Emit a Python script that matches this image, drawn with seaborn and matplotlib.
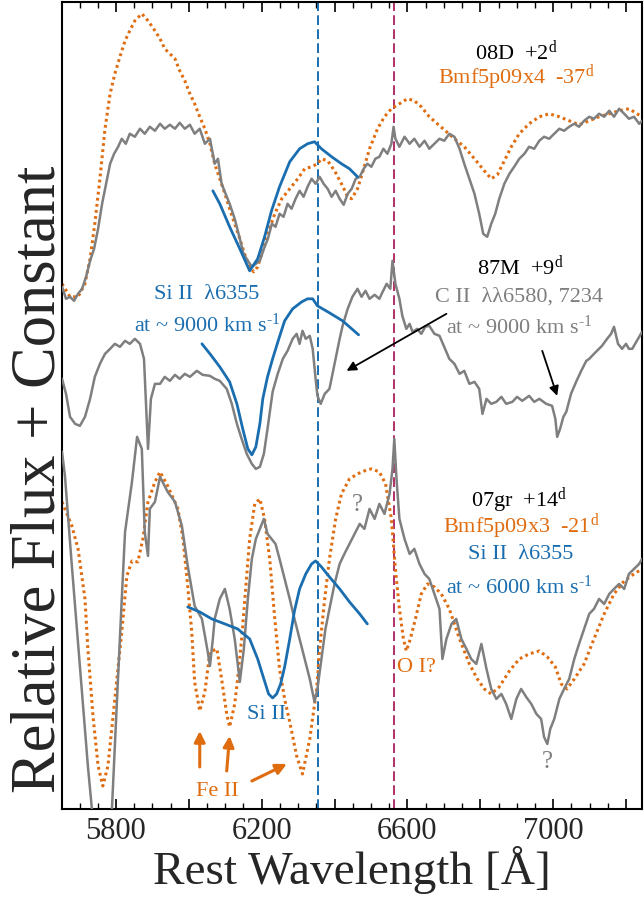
import numpy as np
import pandas as pd
import matplotlib
matplotlib.use("Agg")
import matplotlib.pyplot as plt
from matplotlib.ticker import MultipleLocator, FuncFormatter
import seaborn as sns

# ---- data (wavelength in A, flux + constant) ----
wl_08d = [5652, 5663, 5674, 5685, 5696, 5707, 5718, 5729, 5740, 5751, 5762, 5773, 5784, 5795, 5806, 5816,
          5827, 5838, 5852, 5866, 5879, 5893, 5907, 5921, 5934, 5948, 5962, 5975, 5989, 6003, 6016, 6030,
          6044, 6058, 6071, 6080, 6090, 6101, 6112, 6126, 6140, 6150, 6162, 6173, 6184, 6195, 6206, 6217,
          6228, 6238, 6249, 6260, 6271, 6282, 6293, 6304, 6315, 6326, 6337, 6348, 6359, 6370, 6381, 6392,
          6403, 6414, 6425, 6436, 6447, 6458, 6469, 6480, 6490, 6501, 6512, 6523, 6534, 6545, 6556, 6562,
          6567, 6578, 6592, 6606, 6619, 6633, 6647, 6660, 6674, 6688, 6701, 6715, 6729, 6743, 6756, 6770,
          6784, 6797, 6808, 6819, 6830, 6841, 6852, 6866, 6880, 6893, 6907, 6921, 6934, 6948, 6962, 6975,
          6989, 7003, 7017, 7030, 7044, 7058, 7071, 7085, 7099, 7112, 7126, 7140, 7154, 7167, 7181, 7195,
          7208, 7222, 7236, 7244]
fl_08d = [5.50, 5.38, 5.40, 5.36, 5.43, 5.48, 5.60, 5.76, 5.88, 6.08, 6.33, 6.53, 6.73, 6.83, 6.90, 6.98,
          6.93, 7.03, 7.00, 7.08, 7.03, 7.10, 7.06, 7.13, 7.08, 7.12, 7.08, 7.14, 7.08, 7.12, 7.03, 7.08,
          6.93, 6.98, 6.73, 6.78, 6.53, 6.43, 6.33, 6.18, 5.98, 5.83, 5.76, 5.70, 5.73, 5.76, 5.88, 5.98,
          6.13, 6.10, 6.23, 6.20, 6.33, 6.28, 6.38, 6.46, 6.40, 6.50, 6.58, 6.53, 6.60, 6.53, 6.48, 6.40,
          6.46, 6.38, 6.32, 6.43, 6.48, 6.58, 6.60, 6.68, 6.73, 6.70, 6.78, 6.80, 6.88, 6.83, 6.93, 7.10,
          6.98, 6.90, 7.00, 6.93, 6.98, 6.90, 6.96, 6.88, 6.93, 6.98, 6.96, 7.03, 7.00, 6.88, 6.73, 6.58,
          6.43, 6.23, 6.03, 6.00, 6.13, 6.23, 6.38, 6.53, 6.63, 6.70, 6.78, 6.83, 6.90, 6.88, 6.96, 7.00,
          6.98, 7.03, 7.08, 7.06, 7.10, 7.13, 7.10, 7.16, 7.20, 7.18, 7.23, 7.20, 7.26, 7.20, 7.28, 7.23,
          7.18, 7.20, 7.13, 7.16]

wl_x4 = [5652, 5674, 5696, 5715, 5729, 5742, 5756, 5770, 5784, 5797, 5811, 5825, 5838, 5852, 5871, 5888,
         5907, 5921, 5934, 5948, 5962, 5975, 5989, 6003, 6016, 6030, 6044, 6058, 6071, 6085, 6099, 6112,
         6126, 6140, 6153, 6167, 6178, 6189, 6200, 6216, 6236, 6255, 6277, 6299, 6318, 6337, 6353, 6364,
         6381, 6400, 6419, 6436, 6447, 6463, 6480, 6496, 6518, 6537, 6556, 6578, 6600, 6619, 6638, 6660,
         6682, 6704, 6729, 6756, 6784, 6811, 6830, 6847, 6866, 6885, 6907, 6934, 6962, 6989, 7017, 7044,
         7071, 7099, 7126, 7154, 7181, 7208, 7230, 7244]
fl_x4 = [5.53, 5.40, 5.40, 5.53, 5.78, 6.13, 6.58, 7.08, 7.43, 7.63, 7.80, 7.96, 8.06, 8.16, 8.23, 8.16,
         8.06, 7.98, 7.88, 7.83, 7.78, 7.66, 7.56, 7.43, 7.33, 7.20, 7.08, 6.93, 6.73, 6.58, 6.43, 6.28,
         6.13, 5.98, 5.83, 5.70, 5.65, 5.70, 5.83, 6.03, 6.23, 6.38, 6.48, 6.58, 6.68, 6.70, 6.73, 6.78,
         6.76, 6.66, 6.53, 6.40, 6.38, 6.48, 6.68, 6.88, 7.08, 7.20, 7.28, 7.33, 7.38, 7.36, 7.30, 7.20,
         7.13, 7.06, 6.98, 6.90, 6.78, 6.66, 6.58, 6.62, 6.76, 6.90, 7.03, 7.13, 7.20, 7.23, 7.20, 7.16,
         7.12, 7.16, 7.20, 7.23, 7.26, 7.28, 7.23, 7.20]

wl_si_top = [6066, 6085, 6112, 6140, 6167, 6189, 6208, 6227, 6249, 6277, 6304, 6326, 6345, 6364, 6392,
             6419, 6441, 6463]
fl_si_top = [6.46, 6.33, 6.10, 5.88, 5.66, 5.78, 6.00, 6.26, 6.50, 6.75, 6.88, 6.93, 6.95, 6.88, 6.80,
             6.73, 6.68, 6.60]

wl_87m = [5652, 5663, 5674, 5688, 5701, 5715, 5729, 5742, 5756, 5770, 5784, 5797, 5811, 5825, 5838, 5852,
          5866, 5877, 5888, 5896, 5907, 5921, 5934, 5948, 5962, 5975, 5989, 6003, 6022, 6038, 6058, 6071,
          6085, 6104, 6118, 6132, 6145, 6159, 6173, 6184, 6195, 6206, 6216, 6230, 6244, 6258, 6271, 6285,
          6296, 6304, 6312, 6321, 6332, 6340, 6348, 6353, 6362, 6373, 6386, 6400, 6414, 6422, 6436, 6449,
          6463, 6474, 6485, 6496, 6510, 6523, 6532, 6543, 6553, 6559, 6567, 6578, 6586, 6597, 6606, 6614,
          6627, 6638, 6649, 6660, 6674, 6688, 6701, 6715, 6729, 6743, 6756, 6770, 6784, 6797, 6806, 6817,
          6830, 6844, 6858, 6871, 6888, 6901, 6915, 6934, 6948, 6962, 6981, 6997, 7006, 7011, 7019, 7028,
          7036, 7049, 7063, 7077, 7091, 7099, 7112, 7126, 7134, 7148, 7159, 7167, 7178, 7189, 7200, 7208,
          7217, 7228, 7236, 7244]
fl_87m = [4.58, 4.43, 4.20, 4.13, 4.11, 4.20, 4.38, 4.60, 4.73, 4.83, 4.88, 4.93, 4.90, 4.96, 4.93, 4.98,
          4.93, 4.78, 3.88, 4.38, 4.53, 4.53, 4.60, 4.56, 4.62, 4.58, 4.63, 4.60, 4.66, 4.62, 4.61, 4.58,
          4.56, 4.48, 4.33, 4.13, 3.98, 3.83, 3.73, 3.68, 3.70, 3.83, 4.08, 4.45, 4.63, 4.78, 4.86, 4.98,
          5.03, 4.93, 5.06, 4.98, 5.01, 4.88, 4.58, 4.41, 4.33, 4.43, 4.48, 4.73, 4.98, 5.11, 5.28, 5.40,
          5.48, 5.40, 5.46, 5.38, 5.42, 5.38, 5.45, 5.53, 5.48, 5.76, 5.53, 5.38, 5.21, 5.08, 5.13, 5.05,
          5.08, 5.03, 5.10, 5.11, 5.03, 5.01, 4.90, 4.78, 4.73, 4.63, 4.66, 4.53, 4.55, 4.48, 4.23, 4.38,
          4.33, 4.35, 4.40, 4.33, 4.35, 4.40, 4.36, 4.41, 4.35, 4.38, 4.33, 4.31, 4.18, 4.00, 4.08, 4.20,
          4.25, 4.43, 4.55, 4.66, 4.76, 4.78, 4.83, 4.88, 4.91, 4.98, 5.03, 5.10, 4.93, 4.88, 4.93, 4.88,
          4.88, 4.95, 5.00, 5.05]

wl_si_mid = [6036, 6058, 6085, 6112, 6132, 6148, 6162, 6173, 6184, 6195, 6203, 6216, 6230, 6247, 6263,
             6285, 6310, 6326, 6340, 6353, 6386, 6422, 6444, 6466]
fl_si_mid = [4.93, 4.83, 4.70, 4.55, 4.33, 4.08, 3.88, 3.82, 3.90, 4.13, 4.38, 4.60, 4.78, 4.98, 5.16,
             5.28, 5.35, 5.38, 5.38, 5.31, 5.24, 5.16, 5.09, 5.02]

wl_07gr = [5652, 5660, 5679, 5701, 5723, 5734, 5745, 5778, 5789, 5803, 5816, 5825, 5844, 5858, 5871, 5879,
           5888, 5893, 5907, 5921, 5942, 5962, 5981, 5997, 6016, 6036, 6052, 6058, 6066, 6071, 6085, 6099,
           6112, 6126, 6140, 6151, 6162, 6173, 6184, 6195, 6206, 6216, 6227, 6238, 6249, 6263, 6277, 6290,
           6304, 6318, 6332, 6345, 6353, 6364, 6375, 6386, 6400, 6414, 6427, 6441, 6455, 6469, 6482, 6496,
           6510, 6523, 6537, 6551, 6559, 6564, 6570, 6578, 6592, 6606, 6619, 6633, 6647, 6660, 6674, 6688,
           6696, 6707, 6721, 6734, 6748, 6762, 6775, 6789, 6803, 6817, 6830, 6844, 6858, 6871, 6885, 6899,
           6912, 6926, 6940, 6954, 6967, 6975, 6984, 6992, 7003, 7017, 7030, 7044, 7058, 7071, 7085, 7099,
           7112, 7126, 7140, 7154, 7167, 7181, 7195, 7208, 7222, 7236, 7244]
fl_07gr = [3.85, 3.61, 2.71, 1.71, 0.71, 0.28, -0.22, -0.22, 0.28, 1.38, 2.38, 3.05, 3.55, 4.00, 3.88, 3.05,
           2.81, 3.28, 3.35, 3.60, 3.45, 3.35, 3.11, 2.71, 2.31, 2.18, 1.85, 1.71, 1.98, 2.18, 2.38, 2.48,
           2.28, 1.98, 1.55, 1.88, 2.38, 2.78, 2.98, 3.08, 3.18, 3.03, 2.98, 2.93, 2.78, 2.58, 2.38, 2.18,
           1.98, 1.78, 1.58, 1.35, 1.48, 1.78, 2.08, 2.28, 2.53, 2.73, 2.83, 2.93, 3.03, 3.13, 3.08, 3.28,
           3.18, 3.33, 3.23, 3.43, 3.68, 3.98, 3.58, 3.18, 2.98, 2.83, 2.88, 2.73, 2.63, 2.58, 2.43, 2.28,
           1.78, 1.98, 2.13, 2.18, 1.98, 1.88, 1.78, 1.73, 1.93, 1.68, 1.48, 1.38, 1.43, 1.33, 1.18, 1.38,
           1.48, 1.40, 1.33, 1.23, 1.18, 1.00, 0.93, 1.08, 1.18, 1.38, 1.48, 1.58, 1.78, 1.93, 2.08, 2.23,
           2.28, 2.38, 2.33, 2.43, 2.48, 2.53, 2.48, 2.63, 2.68, 2.73, 2.78]

wl_x3 = [5652, 5679, 5696, 5715, 5723, 5737, 5751, 5764, 5778, 5797, 5816, 5830, 5844, 5860, 5874, 5888,
         5907, 5921, 5942, 5970, 5984, 5997, 6008, 6016, 6030, 6044, 6058, 6077, 6090, 6104, 6112, 6126,
         6134, 6145, 6156, 6167, 6181, 6195, 6208, 6222, 6236, 6249, 6263, 6277, 6296, 6312, 6332, 6351,
         6359, 6373, 6386, 6403, 6419, 6441, 6463, 6482, 6501, 6523, 6540, 6556, 6567, 6578, 6589, 6597,
         6608, 6622, 6638, 6655, 6674, 6693, 6715, 6743, 6770, 6792, 6811, 6830, 6852, 6880, 6907, 6934,
         6962, 6984, 7006, 7022, 7038, 7058, 7085, 7112, 7140, 7167, 7195, 7222, 7244]
fl_x3 = [3.35, 3.11, 2.88, 2.38, 1.88, 1.21, 0.71, 0.51, 0.71, 1.38, 2.05, 2.61, 2.76, 2.75, 2.98, 3.35,
         3.55, 3.65, 3.51, 3.28, 2.98, 2.51, 2.05, 1.55, 1.26, 1.45, 1.85, 1.88, 1.58, 1.23, 1.10, 1.33,
         1.58, 1.98, 2.48, 2.98, 3.33, 3.38, 3.18, 2.78, 2.18, 1.68, 1.38, 1.15, 0.81, 0.63, 0.98, 1.48,
         1.88, 2.38, 2.78, 3.18, 3.43, 3.58, 3.63, 3.66, 3.68, 3.65, 3.53, 3.18, 2.68, 2.28, 1.98, 1.86,
         1.98, 2.18, 2.43, 2.53, 2.50, 2.43, 2.28, 1.98, 1.73, 1.58, 1.48, 1.43, 1.50, 1.66, 1.78, 1.83,
         1.86, 1.80, 1.70, 1.53, 1.48, 1.58, 1.73, 1.98, 2.23, 2.43, 2.56, 2.63, 2.68]

wl_si_bot = [5997, 6030, 6063, 6099, 6134, 6167, 6189, 6206, 6219, 6230, 6241, 6252, 6263, 6277, 6290,
             6304, 6321, 6337, 6348, 6364, 6386, 6414, 6441, 6469, 6490]
fl_si_bot = [2.30, 2.25, 2.18, 2.13, 2.08, 1.98, 1.78, 1.58, 1.43, 1.39, 1.43, 1.53, 1.70, 1.98, 2.26,
             2.48, 2.63, 2.73, 2.76, 2.70, 2.60, 2.48, 2.35, 2.23, 2.13]

si_line = 6355
ha_line = 6563

GRAY = "#7f7f7f"
ORANGE = "#e06c10"
BLUE = "#1a6eb0"
MAROON = "#b0306a"

sns.set_theme(style="ticks")
plt.rcParams["font.family"] = ["Liberation Serif", "DejaVu Serif"]
plt.rcParams["mathtext.fontset"] = "custom"
plt.rcParams["mathtext.rm"] = "Liberation Serif"
plt.rcParams["mathtext.it"] = "Liberation Serif:italic"

fig = plt.figure(figsize=(6.44, 9.03), dpi=100)
ax = fig.add_axes([0.0963, 0.103, 0.9007, 0.894])


def draw(wl, fl, color, ls="-", lw=1.8, z=2):
    df = pd.DataFrame({"wl": wl, "fl": fl})
    sns.lineplot(data=df, x="wl", y="fl", ax=ax, color=color, lw=lw, linestyle=ls,
                 sort=False, estimator=None, zorder=z, legend=False)


dots = (0, (0.9, 1.1))
draw(wl_x4, fl_x4, ORANGE, dots, 2.2, 2)
draw(wl_08d, fl_08d, GRAY, "-", 1.8, 3)
draw(wl_si_top, fl_si_top, BLUE, "-", 2.0, 4)
draw(wl_87m, fl_87m, GRAY, "-", 1.8, 3)
draw(wl_si_mid, fl_si_mid, BLUE, "-", 2.0, 4)
draw(wl_x3, fl_x3, ORANGE, dots, 2.2, 2)
draw(wl_07gr, fl_07gr, GRAY, "-", 1.8, 3)
draw(wl_si_bot, fl_si_bot, BLUE, "-", 2.0, 4)

ax.axvline(si_line, color=BLUE, lw=1.4, ls=(0, (5, 2.2)), zorder=1)
ax.axvline(ha_line, color=MAROON, lw=1.4, ls=(0, (5, 2.2)), zorder=1)

ax.set_xlim(5652, 7244)
ax.set_ylim(0.28, 8.35)

# labels
fs = 16
kms = "at ~ {} km s$^{{\\rm \u20101}}$"
ax.text(6899, 7.86, r"08D  +2$^{\rm d}$", color="black", fontsize=fs, ha="center", va="center")
ax.text(6899, 7.60, r"Bmf5p09x4  -37$^{\rm d}$", color=ORANGE, fontsize=fs, ha="center", va="center")
ax.text(6910, 5.71, r"87M  +9$^{\rm d}$", color="black", fontsize=fs, ha="center", va="center")
ax.text(6907, 5.41, "C II  λλ6580, 7234", color=GRAY, fontsize=fs, ha="center", va="center")
ax.text(6907, 5.11, kms.format(9000), color=GRAY, fontsize=fs, ha="center", va="center")
ax.text(6049, 5.43, "Si II  λ6355", color=BLUE, fontsize=fs, ha="center", va="center")
ax.text(6049, 5.13, kms.format(9000), color=BLUE, fontsize=fs, ha="center", va="center")
ax.text(6907, 3.37, r"07gr  +14$^{\rm d}$", color="black", fontsize=fs, ha="center", va="center")
ax.text(6912, 3.11, r"Bmf5p09x3  -21$^{\rm d}$", color=ORANGE, fontsize=fs, ha="center", va="center")
ax.text(6912, 2.83, "Si II  λ6355", color=BLUE, fontsize=fs, ha="center", va="center")
ax.text(6907, 2.51, kms.format(6000), color=BLUE, fontsize=fs, ha="center", va="center")
ax.text(6079, 0.46, "Fe II", color=ORANGE, fontsize=fs, ha="center", va="center")
ax.text(6214, 1.23, "Si II", color=BLUE, fontsize=fs, ha="center", va="center")
ax.text(6625, 1.70, "O I?", color=ORANGE, fontsize=fs, ha="center", va="center")
ax.text(6463, 3.33, "?", color=GRAY, fontsize=18, ha="center", va="center")
ax.text(6984, 0.76, "?", color=GRAY, fontsize=18, ha="center", va="center")

black_arrow = dict(arrowstyle="-|>", color="black", lw=1.3, mutation_scale=14, shrinkA=0, shrinkB=0)
ax.annotate("", xy=(6433, 4.66), xytext=(6707, 5.23), arrowprops=black_arrow)
ax.annotate("", xy=(7011, 4.41), xytext=(6970, 4.86), arrowprops=black_arrow)
orange_arrow = dict(arrowstyle="-|>", color=ORANGE, lw=2.2, mutation_scale=16, shrinkA=0, shrinkB=0)
ax.annotate("", xy=(6030, 1.06), xytext=(6030, 0.70), arrowprops=orange_arrow)
ax.annotate("", xy=(6112, 1.01), xytext=(6104, 0.66), arrowprops=orange_arrow)
ax.annotate("", xy=(6269, 0.73), xytext=(6173, 0.56), arrowprops=orange_arrow)

# axes styling
ax.xaxis.set_major_locator(MultipleLocator(200))
ax.xaxis.set_minor_locator(MultipleLocator(50))
ax.xaxis.set_major_formatter(FuncFormatter(lambda v, p: f"{v:.0f}" if (v - 5800) % 400 == 0 else ""))
ax.tick_params(axis="x", which="both", direction="in", top=True, labelsize=22, color="black", pad=5)
ax.tick_params(axis="x", which="major", length=7, width=1.2)
ax.tick_params(axis="x", which="minor", length=4, width=1.0)
ax.set_yticks([])
for s in ax.spines.values():
    s.set_visible(True)
    s.set_color("black")
    s.set_linewidth(1.5)

ax.set_xlabel("Rest Wavelength [Å]", fontsize=34, labelpad=0)
ax.set_ylabel("Relative Flux + Constant", fontsize=45)
ax.yaxis.set_label_coords(0.012, 0.41)

fig.savefig("out.png", dpi=100)
